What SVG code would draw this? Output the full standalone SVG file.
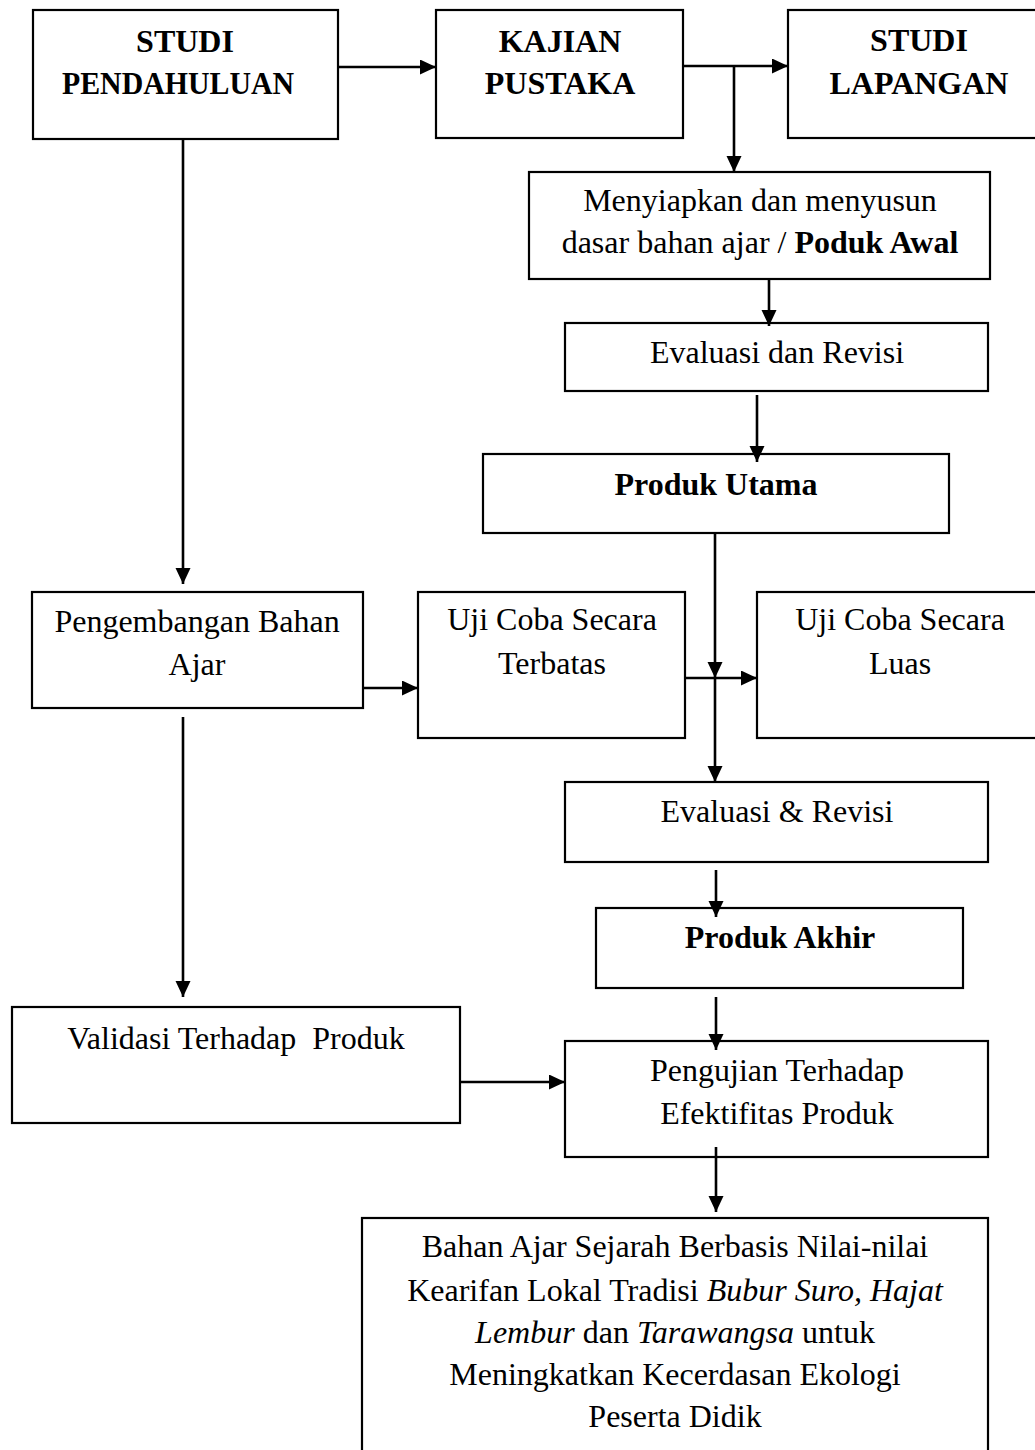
<svg xmlns="http://www.w3.org/2000/svg" width="1035" height="1450" viewBox="0 0 1035 1450">
<style>
.box{fill:#fff;stroke:#000;stroke-width:2.2}
.t{font-family:"Liberation Serif","Times New Roman",serif;font-size:32px;fill:#000;text-anchor:middle}
.b{font-weight:bold}
.i{font-style:italic}
.ca{stroke:#000;stroke-width:2.6;fill:none;marker-end:url(#ah)}
</style>
<defs>
<marker id="ah" markerUnits="userSpaceOnUse" markerWidth="17" markerHeight="16" refX="16" refY="7.5" orient="auto">
<path d="M0,0 L16,7.5 L0,15 Z" fill="#000"/>
</marker>
</defs>
<rect width="1035" height="1450" fill="#fff"/>
<g id="studi-pendahuluan">
<rect class="box" x="33" y="10" width="305" height="129"/>
<text class="t b" x="185" y="52">STUDI</text>
<text class="t b" x="178" y="94" textLength="232" lengthAdjust="spacingAndGlyphs">PENDAHULUAN</text>
</g>
<g id="kajian-pustaka">
<rect class="box" x="436" y="10" width="247" height="128"/>
<text class="t b" x="560" y="52">KAJIAN</text>
<text class="t b" x="560" y="94">PUSTAKA</text>
</g>
<g id="studi-lapangan">
<rect class="box" x="788" y="10" width="262" height="128"/>
<text class="t b" x="919" y="51">STUDI</text>
<text class="t b" x="919" y="94">LAPANGAN</text>
</g>
<g id="menyiapkan">
<rect class="box" x="529" y="172" width="461" height="107"/>
<text class="t" x="760" y="211">Menyiapkan dan menyusun</text>
<text class="t" x="760" y="253">dasar bahan ajar / <tspan class="b">Poduk Awal</tspan></text>
</g>
<g id="evaluasi-revisi-1">
<rect class="box" x="565" y="323" width="423" height="68"/>
<text class="t" x="777" y="363">Evaluasi dan Revisi</text>
</g>
<g id="produk-utama">
<rect class="box" x="483" y="454" width="466" height="79"/>
<text class="t b" x="716" y="495">Produk Utama</text>
</g>
<g id="pengembangan">
<rect class="box" x="32" y="592" width="331" height="116"/>
<text class="t" x="197" y="632">Pengembangan Bahan</text>
<text class="t" x="197" y="675">Ajar</text>
</g>
<g id="uji-terbatas">
<rect class="box" x="418" y="592" width="267" height="146"/>
<text class="t" x="552" y="630">Uji Coba Secara</text>
<text class="t" x="552" y="674">Terbatas</text>
</g>
<g id="uji-luas">
<rect class="box" x="757" y="592" width="286" height="146"/>
<text class="t" x="900" y="630">Uji Coba Secara</text>
<text class="t" x="900" y="674">Luas</text>
</g>
<g id="evaluasi-revisi-2">
<rect class="box" x="565" y="782" width="423" height="80"/>
<text class="t" x="777" y="822">Evaluasi &amp; Revisi</text>
</g>
<g id="produk-akhir">
<rect class="box" x="596" y="908" width="367" height="80"/>
<text class="t b" x="780" y="948">Produk Akhir</text>
</g>
<g id="validasi">
<rect class="box" x="12" y="1007" width="448" height="116"/>
<text class="t" x="236" y="1049" xml:space="preserve">Validasi Terhadap  Produk</text>
</g>
<g id="pengujian">
<rect class="box" x="565" y="1041" width="423" height="116"/>
<text class="t" x="777" y="1081">Pengujian Terhadap</text>
<text class="t" x="777" y="1124">Efektifitas Produk</text>
</g>
<g id="bahan-ajar-akhir">
<rect class="box" x="362" y="1218" width="626" height="250"/>
<text class="t" x="675" y="1257">Bahan Ajar Sejarah Berbasis Nilai-nilai</text>
<text class="t" x="675" y="1301">Kearifan Lokal Tradisi <tspan class="i">Bubur Suro, Hajat</tspan></text>
<text class="t" x="675" y="1343"><tspan class="i">Lembur</tspan> dan <tspan class="i">Tarawangsa</tspan> untuk</text>
<text class="t" x="675" y="1385">Meningkatkan Kecerdasan Ekologi</text>
<text class="t" x="675" y="1427">Peserta Didik</text>
</g>
<g id="connectors">
<line class="ca" x1="338" y1="67" x2="436" y2="67"/>
<line class="ca" x1="683" y1="66" x2="788" y2="66"/>
<line class="ca" x1="734" y1="66" x2="734" y2="172"/>
<line class="ca" x1="769" y1="279" x2="769" y2="326"/>
<line class="ca" x1="757" y1="395" x2="757" y2="462"/>
<line class="ca" x1="183" y1="139" x2="183" y2="584"/>
<line class="ca" x1="363" y1="688" x2="418" y2="688"/>
<line class="ca" x1="715" y1="533" x2="715" y2="678"/>
<line class="ca" x1="715" y1="678" x2="715" y2="782"/>
<line class="ca" x1="685" y1="678" x2="757" y2="678"/>
<line class="ca" x1="183" y1="717" x2="183" y2="997"/>
<line class="ca" x1="716" y1="870" x2="716" y2="917"/>
<line class="ca" x1="716" y1="997" x2="716" y2="1050"/>
<line class="ca" x1="460" y1="1082" x2="565" y2="1082"/>
<line class="ca" x1="716" y1="1147" x2="716" y2="1212"/>
</g>
</svg>
